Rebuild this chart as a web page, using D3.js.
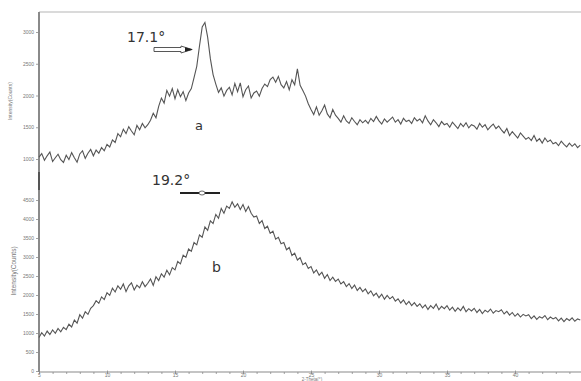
<!DOCTYPE html>
<html>
<head>
<meta charset="utf-8">
<script src="https://cdn.jsdelivr.net/npm/d3@7"></script>
<style>
  html, body { margin: 0; padding: 0; background: #fff; }
  svg { display: block; }
  .tiny text { font-family: "Liberation Sans", Arial, sans-serif; font-size: 5px; fill: #777; }
</style>
</head>
<body>
<svg width="581" height="381"></svg>
<script>
// 2-theta grid, 0.2 degree step (start, step, count)
const thetaStart = 5, thetaStep = 0.2, thetaCount = 200;
const twoTheta = d3.range(thetaCount).map(i => +(thetaStart + i * thetaStep).toFixed(1));

// pattern a (counts)
const seriesA = [
  1030, 1085, 980, 1050, 1110, 960, 1020, 1075, 990, 945,
  1060, 990, 1100, 1020, 950, 1080, 1130, 1010, 1090, 1150,
  1050, 1140, 1090, 1180, 1130, 1230, 1190, 1300, 1260, 1400,
  1350, 1470, 1400, 1510, 1440, 1380, 1530, 1460, 1560, 1490,
  1540, 1610, 1720, 1650, 1830, 1960, 1880, 2080, 1990, 2110,
  1950, 2090, 1980, 2060, 1920, 2040, 2110, 2280, 2460, 2780,
  3080, 3150, 2920, 2580, 2330, 2180, 2050, 2120, 1990, 2080,
  2130, 2010, 2190, 2060, 2200, 1980, 2090, 2150, 1960, 2040,
  2070, 1990, 2110, 2180, 2140, 2250, 2290, 2210, 2300, 2170,
  2120, 2220, 2090, 2250, 2170, 2420, 2160, 2080, 1990, 1870,
  1780, 1700, 1820, 1690, 1760, 1850, 1710, 1650, 1780, 1690,
  1640, 1580, 1680, 1600, 1560, 1650, 1590, 1540, 1620, 1570,
  1610, 1560, 1640, 1590, 1670, 1600, 1550, 1630, 1580, 1620,
  1660, 1580, 1620, 1550, 1640, 1590, 1610, 1560, 1650, 1600,
  1630, 1570, 1680, 1600, 1540, 1620, 1570, 1510, 1590, 1540,
  1560, 1500, 1580, 1530, 1480, 1560, 1510, 1570, 1490, 1540,
  1520, 1470, 1560, 1500, 1540, 1460, 1510, 1550, 1480, 1520,
  1460, 1410, 1480, 1370, 1430, 1380, 1330, 1410, 1360, 1310,
  1340, 1290, 1370, 1280, 1320, 1250, 1330, 1270, 1300, 1240,
  1260, 1210, 1280, 1230, 1190, 1250, 1200, 1240, 1180, 1220
];

// pattern b (counts)
const seriesB = [
  880, 1010, 920, 1050, 960, 1080, 990, 1120, 1030, 1150,
  1090, 1230, 1160, 1340, 1260, 1480, 1390, 1560, 1490, 1650,
  1720, 1850, 1780, 1950, 1880, 2060, 1990, 2180, 2080, 2240,
  2150, 2290, 2090, 2240, 2320, 2130, 2260, 2190, 2350, 2220,
  2310, 2420, 2250, 2480, 2380, 2560, 2470, 2650, 2530, 2720,
  2660, 2880, 2820, 3050, 2990, 3210, 3150, 3380, 3320, 3580,
  3520, 3790, 3700, 3950, 3880, 4120, 4020, 4280, 4150, 4340,
  4280, 4450, 4310, 4400, 4250, 4380, 4200, 4330, 4150, 4050,
  4080, 3880, 3960, 3750, 3810, 3620, 3680, 3470, 3520, 3350,
  3380, 3190, 3250, 3040, 3100, 2920, 2980, 2800, 2850, 2700,
  2750, 2580, 2660, 2520, 2600, 2440, 2540, 2380, 2470, 2360,
  2420, 2290, 2350, 2220, 2300, 2170, 2260, 2120, 2200, 2090,
  2160, 2030, 2110, 1980, 2050, 1930, 2020, 1890, 1990, 1900,
  1960, 1840, 1900, 1790, 1870, 1750, 1830, 1720, 1800, 1700,
  1770, 1660, 1740, 1620, 1720, 1650, 1760, 1610, 1700, 1640,
  1720, 1600, 1680, 1570, 1660, 1590, 1700, 1560, 1640, 1580,
  1650, 1540, 1620, 1510, 1600, 1550, 1630, 1520, 1590, 1560,
  1610, 1500, 1570, 1470, 1540, 1440, 1510, 1420, 1490, 1450,
  1480, 1380, 1450, 1360, 1430, 1390, 1460, 1350, 1420, 1370,
  1410, 1320, 1390, 1300, 1380, 1330, 1400, 1310, 1370, 1340
];

const xMajorTicks = [5, 10, 15, 20, 25, 30, 35, 40];
const topTicks = [1000, 1500, 2000, 2500, 3000];
const bottomTicks = [0, 500, 1000, 1500, 2000, 2500, 3000, 3500, 4000, 4500];

const peaks = [
  { label: "17.1°", tag: "a" },
  { label: "19.2°", tag: "b" }
];

const svg = d3.select("svg");
const axisColor = "#8a8a8a";

const x = d3.scaleLinear().domain([5, 45]).range([39, 583]);
const yTop = d3.scaleLinear().domain([1000, 3000]).range([159, 32]);
const yBot = d3.scaleLinear().domain([0, 4500]).range([371, 200]);

// frame: top border and shared left spine
svg.append("line").attr("x1", 39).attr("x2", 581).attr("y1", 12).attr("y2", 12)
  .attr("stroke", "#b5b5b5").attr("stroke-width", 1.2);
svg.append("line").attr("x1", 39).attr("x2", 39).attr("y1", 12).attr("y2", 372)
  .attr("stroke", axisColor).attr("stroke-width", 2);
svg.append("line").attr("x1", 39).attr("x2", 39).attr("y1", 172).attr("y2", 190)
  .attr("stroke", "#555").attr("stroke-width", 2);

function styleAxis(g) {
  g.select(".domain").remove();
  g.selectAll(".tick line").attr("stroke", axisColor).attr("stroke-width", 0.8);
}

// y axes
svg.append("g").attr("class", "tiny").attr("transform", "translate(39,0)")
  .call(d3.axisLeft(yTop).tickValues(topTicks).tickSize(3).tickPadding(2).tickFormat(d3.format("d")))
  .call(styleAxis);
svg.append("g").attr("class", "tiny").attr("transform", "translate(39,0)")
  .call(d3.axisLeft(yBot).tickValues(bottomTicks).tickSize(3).tickPadding(2).tickFormat(d3.format("d")))
  .call(styleAxis);

// x axis
svg.append("line").attr("x1", 39).attr("x2", 581).attr("y1", 372).attr("y2", 372)
  .attr("stroke", axisColor).attr("stroke-width", 1.2);
svg.append("g").attr("transform", "translate(0,372)")
  .call(d3.axisBottom(x).tickValues(d3.range(5, 45, 1)).tickSize(2).tickFormat(""))
  .call(styleAxis);
svg.append("g").attr("class", "tiny").attr("transform", "translate(0,370.5)")
  .call(d3.axisBottom(x).tickValues(xMajorTicks).tickSize(3).tickPadding(0).tickFormat(d3.format("d")))
  .call(styleAxis);

// axis titles
svg.append("text").attr("transform", "translate(12,101) rotate(-90)")
  .attr("text-anchor", "middle").attr("font-family", "Liberation Sans, Arial, sans-serif")
  .attr("font-size", 5).attr("fill", "#777").text("Intensity(Counts)");
svg.append("text").attr("transform", "translate(16,271) rotate(-90)")
  .attr("text-anchor", "middle").attr("font-family", "Liberation Sans, Arial, sans-serif")
  .attr("font-size", 6.5).attr("fill", "#777").text("Intensity(Counts)");
svg.append("text").attr("x", 312).attr("y", 381)
  .attr("text-anchor", "middle").attr("font-family", "Liberation Sans, Arial, sans-serif")
  .attr("font-size", 4.5).attr("fill", "#777").text("2-Theta(°)");

// patterns
const lineTop = d3.line().x((d, i) => x(twoTheta[i])).y(d => yTop(d));
const lineBot = d3.line().x((d, i) => x(twoTheta[i])).y(d => yBot(d));

svg.append("path").datum(seriesA).attr("d", lineTop)
  .attr("fill", "none").attr("stroke", "#555").attr("stroke-width", 1.1);
svg.append("path").datum(seriesB).attr("d", lineBot)
  .attr("fill", "none").attr("stroke", "#555").attr("stroke-width", 1.1);

// annotations
const labelFont = "DejaVu Sans, Verdana, sans-serif";
svg.append("text").attr("x", 127).attr("y", 42).attr("font-family", labelFont)
  .attr("font-size", 14).attr("fill", "#333").text(peaks[0].label);
svg.append("text").attr("x", 152).attr("y", 185).attr("font-family", labelFont)
  .attr("font-size", 14).attr("fill", "#333").text(peaks[1].label);
svg.append("text").attr("x", 195).attr("y", 130).attr("font-family", labelFont)
  .attr("font-size", 13).attr("fill", "#333").text(peaks[0].tag);
svg.append("text").attr("x", 212).attr("y", 272).attr("font-family", labelFont)
  .attr("font-size", 14).attr("fill", "#333").text(peaks[1].tag);

// hollow arrow for a
svg.append("path")
  .attr("d", "M154,47.5 L181,47.5 L181,46 L192,49.5 L181,53 L181,51.5 L154,51.5 Z")
  .attr("fill", "#fff").attr("stroke", "#444").attr("stroke-width", 0.9);
svg.append("path").attr("d", "M185,47.3 L193,49.5 L185,51.7 Z").attr("fill", "#222");

// line marker for b
svg.append("line").attr("x1", 180).attr("x2", 220).attr("y1", 193).attr("y2", 193)
  .attr("stroke", "#222").attr("stroke-width", 1.8);
svg.append("ellipse").attr("cx", 202).attr("cy", 193).attr("rx", 3).attr("ry", 2)
  .attr("fill", "#fff").attr("stroke", "#444").attr("stroke-width", 0.8);
</script>
</body>
</html>
